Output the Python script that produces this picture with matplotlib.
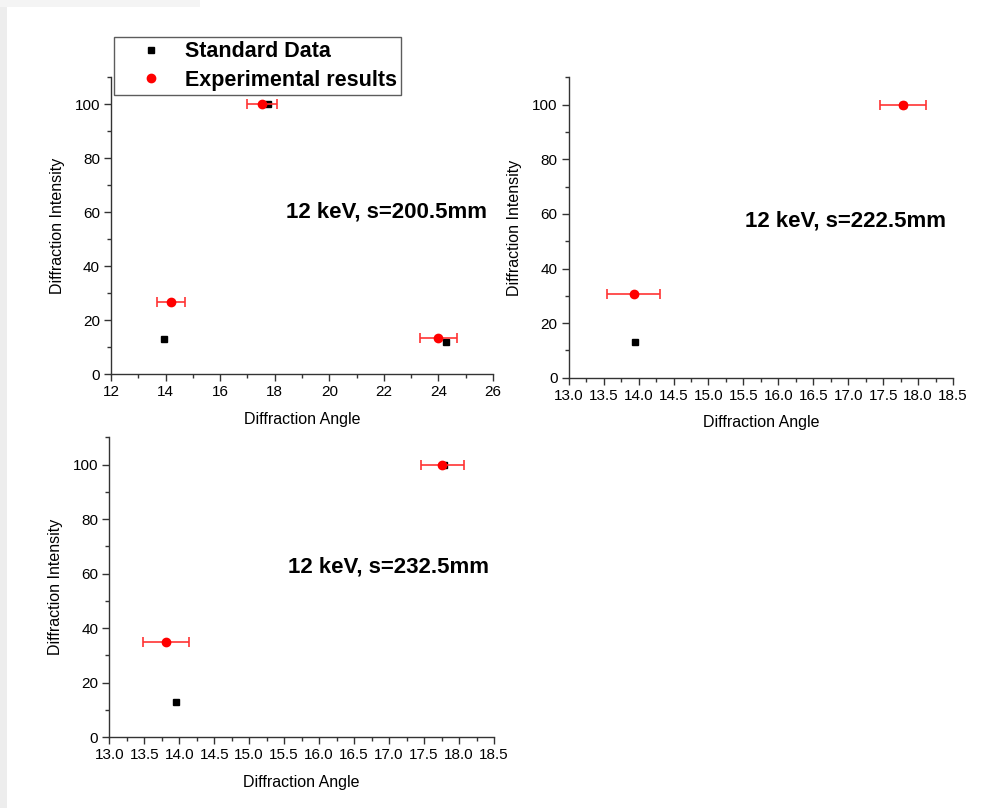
import matplotlib.pyplot as plt
from matplotlib.patches import Rectangle
from matplotlib.lines import Line2D
from matplotlib.ticker import MultipleLocator

plt.rcParams['font.family'] = ['Liberation Sans', 'DejaVu Sans']

# standard data (angle, intensity) per distance
std_x_200 = [13.94, 17.77, 24.27]
std_y_200 = [13.0, 100.0, 12.0]
exp_x_200 = [14.21, 17.54, 23.99]
exp_y_200 = [26.7, 100.0, 13.5]
exp_err_200 = [0.51, 0.55, 0.68]

std_x_222 = [13.95, 17.79]
std_y_222 = [13.1, 100.0]
exp_x_222 = [13.93, 17.79]
exp_y_222 = [30.6, 100.0]
exp_err_222 = [0.38, 0.33]

std_x_232 = [13.95, 17.79]
std_y_232 = [13.0, 100.0]
exp_x_232 = [13.81, 17.76]
exp_y_232 = [35.0, 100.0]
exp_err_232 = [0.33, 0.31]

labels = ["12 keV, s=200.5mm", "12 keV, s=222.5mm", "12 keV, s=232.5mm"]

fig = plt.figure(figsize=(9.99, 8.08), dpi=100)

# light grey slide border at left / top
fig.patches.append(Rectangle((0, 0), 7 / 999, 1, transform=fig.transFigure,
                             facecolor='#ededed', edgecolor='none', zorder=0))
fig.patches.append(Rectangle((0, 1 - 7 / 808), 200 / 999, 7 / 808, transform=fig.transFigure,
                             facecolor='#f4f4f4', edgecolor='none', zorder=0))

ax1 = fig.add_axes([0.1111, 0.5371, 0.3824, 0.3676])
ax2 = fig.add_axes([0.5693, 0.5326, 0.3847, 0.3715])
ax3 = fig.add_axes([0.1094, 0.0875, 0.3851, 0.3713])

panels = [
    (ax1, std_x_200, std_y_200, exp_x_200, exp_y_200, exp_err_200, (12, 26), 2, 1),
    (ax2, std_x_222, std_y_222, exp_x_222, exp_y_222, exp_err_222, (13, 18.5), 0.5, 0.25),
    (ax3, std_x_232, std_y_232, exp_x_232, exp_y_232, exp_err_232, (13, 18.5), 0.5, 0.25),
]
text_pos = [(0.72, 0.545), (0.72, 0.522), (0.727, 0.568)]

for i, (ax, sx, sy, ex, ey, ee, xl, maj, mnr) in enumerate(panels):
    ax.plot(sx, sy, 's', color='black', markersize=5, linestyle='none', zorder=3)
    ax.errorbar(ex, ey, xerr=ee, fmt='o', color='red', ecolor='#ff3333',
                elinewidth=1.2, capsize=3.5, capthick=1.2, markersize=6, zorder=4)
    ax.set_xlim(*xl)
    ax.set_ylim(0, 110)
    ax.xaxis.set_major_locator(MultipleLocator(maj))
    ax.xaxis.set_minor_locator(MultipleLocator(mnr))
    ax.yaxis.set_major_locator(MultipleLocator(20))
    ax.yaxis.set_minor_locator(MultipleLocator(10))
    if maj == 0.5:
        ax.xaxis.set_major_formatter(lambda v, p: f"{v:.1f}")
    for s in ['top', 'right']:
        ax.spines[s].set_visible(False)
    for s in ['left', 'bottom']:
        ax.spines[s].set_color('#333333')
        ax.spines[s].set_linewidth(1.0)
    ax.tick_params(which='major', direction='out', length=5, width=1,
                   color='#333333', labelsize=11, pad=3)
    ax.tick_params(which='minor', direction='out', length=3, width=1, color='#333333')
    ax.set_xlabel('Diffraction Angle', fontsize=11.5, labelpad=9)
    ax.set_ylabel('Diffraction Intensity', fontsize=11.5, labelpad=7)
    ax.text(text_pos[i][0], text_pos[i][1], labels[i], transform=ax.transAxes,
            ha='center', va='center', fontsize=16, fontweight='bold')

handles = [
    Line2D([], [], marker='s', color='black', markersize=5, linestyle='none'),
    Line2D([], [], marker='o', color='red', markersize=6, linestyle='none'),
]
leg = fig.legend(handles, ['Standard Data', 'Experimental results'], loc='upper left',
                 bbox_to_anchor=(114 / 999, 1 - 37 / 808),
                 prop={'size': 15.5, 'weight': 'bold'}, frameon=True, fancybox=False,
                 borderpad=0.2, labelspacing=0.35, handlelength=3.0,
                 handletextpad=0.1, borderaxespad=0)
leg.get_frame().set_edgecolor('#333333')
leg.get_frame().set_linewidth(1.0)

fig.savefig('out.png', dpi=100)
